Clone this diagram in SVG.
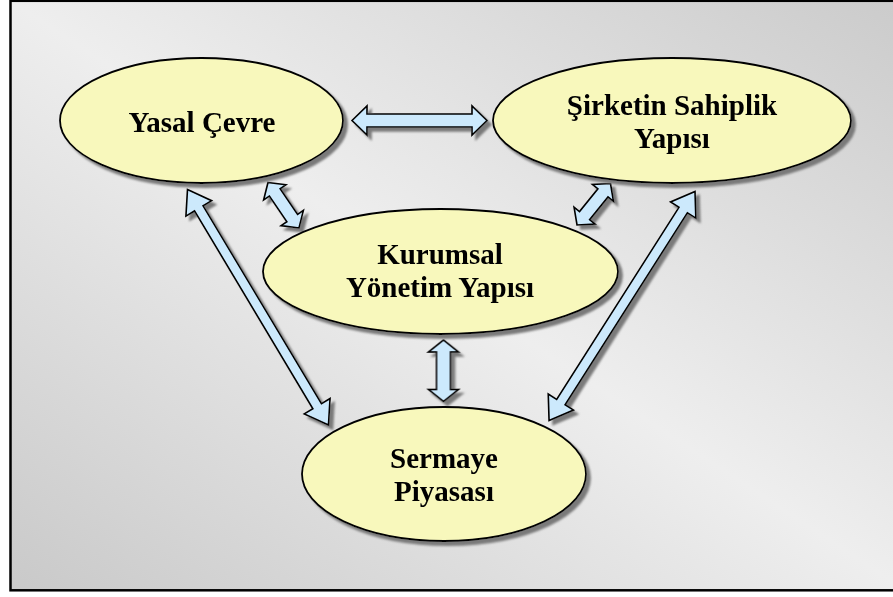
<svg xmlns="http://www.w3.org/2000/svg" width="893" height="597" viewBox="0 0 893 597">
  <defs>
    <!-- panel background: light along the main diagonal, darker at the off corners -->
    <linearGradient id="panelFill" x1="0" y1="1" x2="1" y2="0">
      <stop offset="0" stop-color="#c9c9c9"/>
      <stop offset="0.5" stop-color="#eeeeee"/>
      <stop offset="1" stop-color="#cbcbcb"/>
    </linearGradient>
    <!-- grey drop shadow down and to the right -->
    <filter id="shadow" x="-10%" y="-10%" width="125%" height="125%">
      <feGaussianBlur in="SourceAlpha" stdDeviation="0.9" result="blur"/>
      <feOffset in="blur" dx="4" dy="4" result="off"/>
      <feFlood flood-color="#7a7a7a"/>
      <feComposite in2="off" operator="in" result="shade"/>
      <feMerge>
        <feMergeNode in="shade"/>
        <feMergeNode in="SourceGraphic"/>
      </feMerge>
    </filter>
  </defs>
  <style>
    .node { fill: #f8f8bc; stroke: #000; stroke-width: 1.8; }
    .label { font-family: "Liberation Serif", "Times New Roman", serif; font-weight: bold; font-size: 29px; fill: #000; text-anchor: middle; }
    .link { fill: #cce9fc; stroke: #000; stroke-width: 1.6; stroke-linejoin: miter; }
  </style>

  <!-- frame -->
  <rect x="10.5" y="0.8" width="895" height="589.5" fill="url(#panelFill)" stroke="#000" stroke-width="2.5"/>

  <!-- two-headed block arrows, each drawn along +x from its first tip -->
  <g id="connectors" filter="url(#shadow)">
    <!-- Yasal Çevre <-> Şirketin Sahiplik Yapısı -->
    <path class="link" transform="translate(352,120.5)"
          d="M0,0 L15,-14.5 L15,-6.5 L120,-6.5 L120,-14.5 L135,0 L120,14.5 L120,6.5 L15,6.5 L15,14.5 Z"/>
    <!-- Yasal Çevre <-> Kurumsal Yönetim Yapısı -->
    <path class="link" transform="translate(268,182.5) rotate(55.7)"
          d="M0,0 L12,-13.5 L12,-6.5 L43,-6.5 L43,-13.5 L55,0 L43,13.5 L43,6.5 L12,6.5 L12,13.5 Z"/>
    <!-- Şirketin Sahiplik Yapısı <-> Kurumsal Yönetim Yapısı -->
    <path class="link" transform="translate(610.5,183.5) rotate(128.9)"
          d="M0,0 L12,-13.5 L12,-6.5 L41.3,-6.5 L41.3,-13.5 L53.3,0 L41.3,13.5 L41.3,6.5 L12,6.5 L12,13.5 Z"/>
    <!-- Yasal Çevre <-> Sermaye Piyasası -->
    <path class="link" transform="translate(187.5,189.5) rotate(59.1)"
          d="M0,0 L22,-15 L22,-5 L252.5,-5 L252.5,-15 L274.5,0 L252.5,15 L252.5,5 L22,5 L22,15 Z"/>
    <!-- Şirketin Sahiplik Yapısı <-> Sermaye Piyasası -->
    <path class="link" transform="translate(695,191.5) rotate(122.5)"
          d="M0,0 L22,-15 L22,-5 L249.6,-5 L249.6,-15 L271.6,0 L249.6,15 L249.6,5 L22,5 L22,15 Z"/>
    <!-- Kurumsal Yönetim Yapısı <-> Sermaye Piyasası -->
    <path class="link" transform="translate(443.5,340) rotate(90)"
          d="M0,0 L12,-15 L12,-7 L49.5,-7 L49.5,-15 L61.5,0 L49.5,15 L49.5,7 L12,7 L12,15 Z"/>
  </g>

  <g id="yasal-cevre">
    <ellipse class="node" cx="201.5" cy="120.5" rx="141.5" ry="62.5" filter="url(#shadow)"/>
    <text class="label" x="202" y="132">Yasal Çevre</text>
  </g>

  <g id="sirketin-sahiplik-yapisi">
    <ellipse class="node" cx="672" cy="120.5" rx="179" ry="62.5" filter="url(#shadow)"/>
    <text class="label" x="672" y="115">Şirketin Sahiplik</text>
    <text class="label" x="672" y="148">Yapısı</text>
  </g>

  <g id="kurumsal-yonetim-yapisi">
    <ellipse class="node" cx="440.5" cy="271.5" rx="177.5" ry="62.5" filter="url(#shadow)"/>
    <text class="label" x="440" y="264">Kurumsal</text>
    <text class="label" x="440" y="297">Yönetim Yapısı</text>
  </g>

  <g id="sermaye-piyasasi">
    <ellipse class="node" cx="444" cy="474" rx="142" ry="67" filter="url(#shadow)"/>
    <text class="label" x="444" y="468">Sermaye</text>
    <text class="label" x="444" y="501">Piyasası</text>
  </g>
</svg>
